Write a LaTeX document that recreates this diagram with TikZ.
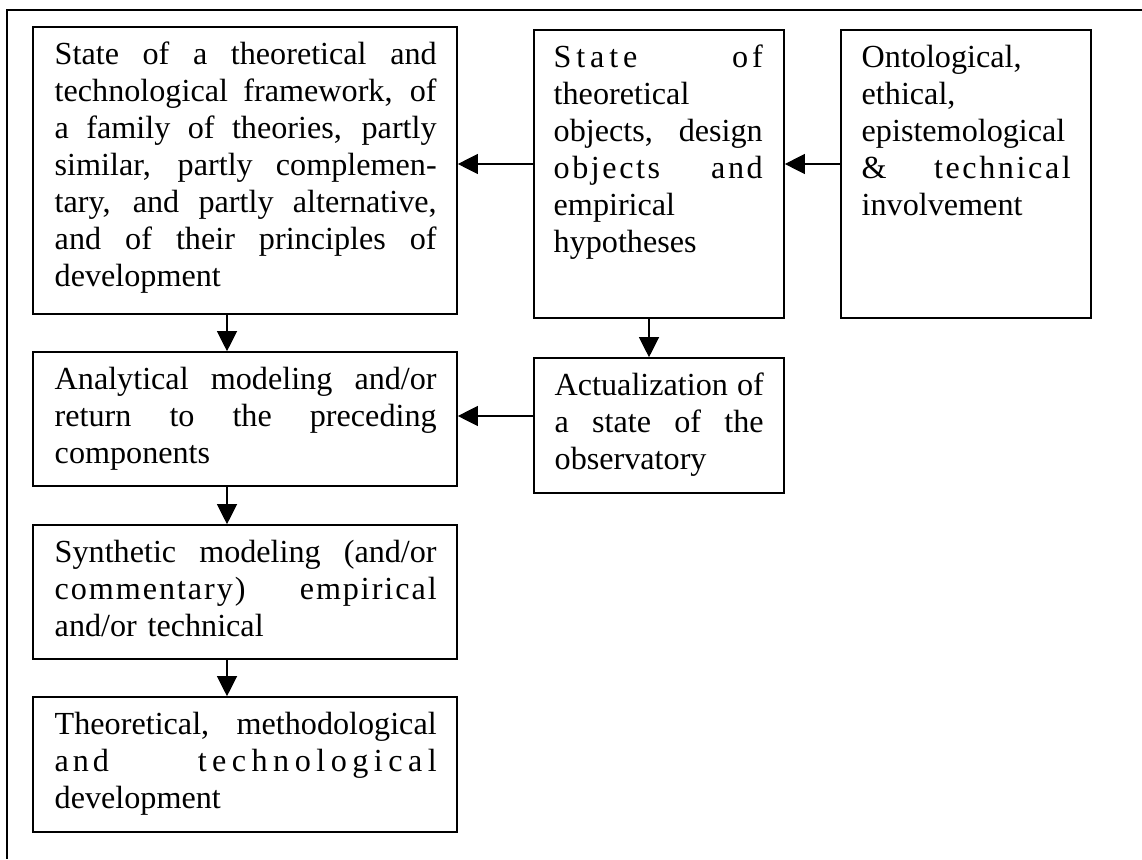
\documentclass[tikz,border=0pt]{standalone}
\usepackage{fontspec}
\setmainfont{Liberation Serif}
\usetikzlibrary{arrows.meta}
\newcommand{\jline}[2][142.5pt]{\makebox[#1][s]{\spaceskip=0pt\xspaceskip=0pt #2}}
\newcommand{\spaced}[2]{{\addfontfeatures{LetterSpace=#1}#2}}

\begin{document}
\begin{tikzpicture}[x=0.3731pt,y=-0.3731pt,
    box/.style={draw, line width=0.6pt, inner sep=0pt},
    wide/.style={box, minimum width=158.2pt},
    narrow/.style={box, minimum width=93.3pt},
    txt/.style={anchor=base west, inner sep=0pt, align=left, text width=#1,
        font=\fontsize{12}{13.8}\selectfont},
    txt/.default=142.5pt,
    arr/.style={line width=0.45pt, -{Triangle[length=7.5pt,width=7.5pt]}}]
    \useasboundingbox (0,0) rectangle (1142,859);
    \draw[line width=0.9pt] (1142,10) -- (7,10) -- (7,859);

    \node[wide, minimum height=107.1pt] (framework) at (245,170.5) {};
    \node[narrow, minimum height=107.45pt] (objects) at (659,174) {};
    \node[narrow, minimum height=107.45pt] (involve) at (966,174) {};
    \node[wide, minimum height=50pt] (analytic) at (245,419) {};
    \node[narrow, minimum height=50.37pt] (observ) at (659,425.5) {};
    \node[wide, minimum height=50pt] (synthetic) at (245,592) {};
    \node[wide, minimum height=50.37pt] (develop) at (245,764.5) {};

    \node[txt] (frameworkT) at ([shift={(22,38.5)}]framework.north west)
        {\jline{State of a theoretical and}\\
         \jline{technological framework, of}\\
         \jline{a family of theories, partly}\\
         \jline{similar, partly complemen-}\\
         \jline{tary, and partly alternative,}\\
         \jline{and of their principles of}\\
         development};
    \node[txt=78pt] (objectsT) at ([shift={(20,38.5)}]objects.north west)
        {\jline[78pt]{\spaced{15}{State} \spaced{12}{of}}\\
         theoretical\\
         \jline[78pt]{objects, design}\\
         \jline[78pt]{\spaced{8}{objects} \spaced{8}{and}}\\
         empirical\\
         hypotheses};
    \node[txt=78pt] (involveT) at ([shift={(21,38.5)}]involve.north west)
        {Ontological,\\
         ethical,\\
         epistemological\\
         \jline[78pt]{\& \spaced{8}{technical}}\\
         involvement};
    \node[txt] (analyticT) at ([shift={(22,38.5)}]analytic.north west)
        {\jline{Analytical modeling and/or}\\
         \jline{return to the preceding}\\
         components};
    \node[txt=78pt] (observT) at ([shift={(21,38.5)}]observ.north west)
        {\jline[78pt]{Actualization of}\\
         \jline[78pt]{a state of the}\\
         observatory};
    \node[txt] (syntheticT) at ([shift={(22,38.5)}]synthetic.north west)
        {\jline{Synthetic modeling (and/or}\\
         \jline{\spaced{6}{commentary)} \spaced{6}{empirical}}\\
         and/or technical};
    \node[txt] (developT) at ([shift={(22,38.5)}]develop.north west)
        {\jline{Theoretical, methodological}\\
         \jline{\spaced{12}{and} \spaced{17}{technological}}\\
         development};

    \draw[arr] ([shift={(0,-10)}]objects.west) -- ([shift={(0,-6.5)}]framework.east);
    \draw[arr] ([shift={(0,-10)}]involve.west) -- ([shift={(0,-10)}]objects.east);
    \draw[arr] ([shift={(-18,0)}]framework.south) -- ([shift={(-18,0)}]analytic.north);
    \draw[arr] ([shift={(-10,0)}]objects.south) -- ([shift={(-10,0)}]observ.north);
    \draw[arr] ([shift={(0,-9.5)}]observ.west) -- ([shift={(0,-3)}]analytic.east);
    \draw[arr] ([shift={(-18,0)}]analytic.south) -- ([shift={(-18,0)}]synthetic.north);
    \draw[arr] ([shift={(-18,0)}]synthetic.south) -- ([shift={(-18,0)}]develop.north);
\end{tikzpicture}
\end{document}
